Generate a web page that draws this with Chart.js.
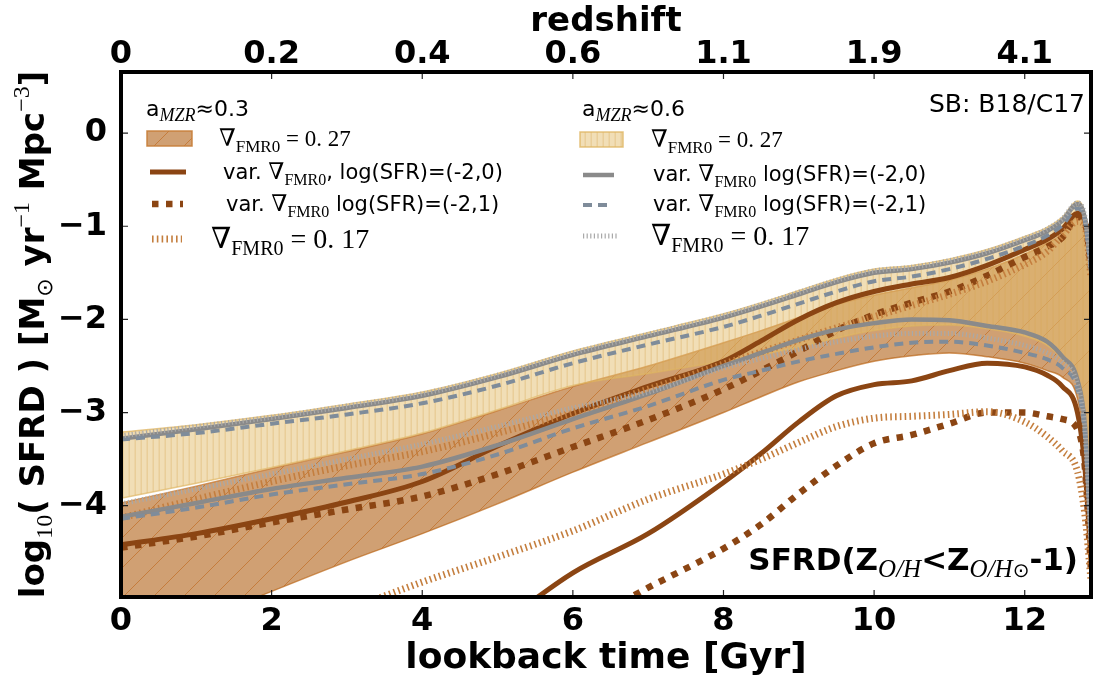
<!DOCTYPE html>
<html><head><meta charset="utf-8">
<script src="https://cdn.jsdelivr.net/npm/chart.js@4.4.1/dist/chart.umd.min.js"></script>
<style>html,body{margin:0;padding:0;background:#fff;}</style>
</head><body>
<canvas id="c" width="1094" height="682"></canvas>
<script>
// ---------------- data ----------------
const lookback = [0,1,2,3,4,5,6,7,8,8.5,9,9.5,10,10.5,11,11.5,12,12.3,12.5,12.7,12.8,12.88];
const bottomTicks = [0,2,4,6,8,10,12];
const redshiftLabels = ['0','0.2','0.4','0.6','1.1','1.9','4.1'];
const yTickValues = [-4,-3,-2,-1,0];

// a_MZR ~ 0.6 band (grad 0.27)
const yellowUpper = [-3.21,-3.13,-3.03,-2.91,-2.78,-2.58,-2.34,-2.14,-1.94,-1.82,-1.69,-1.56,-1.46,-1.42,-1.35,-1.25,-1.11,-1.01,-0.90,-0.73,-0.88,-1.45];
const yellowLower = [-3.92,-3.76,-3.59,-3.41,-3.22,-2.97,-2.71,-2.58,-2.45,-2.38,-2.30,-2.20,-2.12,-2.07,-2.06,-2.10,-2.18,-2.28,-2.43,-2.68,-3.20,-4.50];
// a_MZR ~ 0.3 band (grad 0.27)
const brownUpper = [-3.97,-3.79,-3.60,-3.42,-3.23,-2.98,-2.72,-2.50,-2.25,-2.12,-1.98,-1.84,-1.74,-1.66,-1.58,-1.46,-1.30,-1.18,-1.08,-0.90,-0.97,-1.45];
const brownLower = [-5.60,-5.25,-4.92,-4.60,-4.30,-3.98,-3.64,-3.32,-3.00,-2.83,-2.67,-2.55,-2.45,-2.39,-2.36,-2.40,-2.47,-2.55,-2.62,-2.85,-3.40,-4.60];

// grey (a_MZR ~ 0.6) lines
const greySolidHi  = [-3.28,-3.18,-3.07,-2.95,-2.82,-2.62,-2.38,-2.18,-1.98,-1.86,-1.73,-1.60,-1.50,-1.46,-1.39,-1.29,-1.15,-1.05,-0.94,-0.76,-0.92,-1.45];
const greyDashedHi = [-3.29,-3.22,-3.12,-3.02,-2.90,-2.71,-2.47,-2.27,-2.08,-1.96,-1.83,-1.70,-1.59,-1.54,-1.46,-1.35,-1.21,-1.10,-0.99,-0.81,-0.95,-1.50];
const greyDottedHi = [-3.25,-3.15,-3.05,-2.93,-2.80,-2.60,-2.36,-2.16,-1.96,-1.84,-1.71,-1.58,-1.48,-1.44,-1.37,-1.27,-1.13,-1.03,-0.92,-0.75,-0.90,-1.45];
const greySolidLo  = [-4.12,-3.97,-3.82,-3.70,-3.58,-3.35,-3.07,-2.80,-2.50,-2.36,-2.22,-2.11,-2.04,-2.00,-2.01,-2.07,-2.14,-2.24,-2.40,-2.65,-3.15,-4.40];
const greyDashedLo = [-4.14,-4.02,-3.88,-3.77,-3.66,-3.45,-3.17,-2.93,-2.65,-2.55,-2.45,-2.37,-2.30,-2.25,-2.24,-2.28,-2.36,-2.43,-2.52,-2.75,-3.25,-4.40];
const greyDottedLo = [-3.98,-3.82,-3.66,-3.50,-3.34,-3.15,-2.95,-2.78,-2.52,-2.42,-2.32,-2.24,-2.18,-2.15,-2.15,-2.20,-2.28,-2.36,-2.46,-2.70,-3.20,-4.40];

// brown (a_MZR ~ 0.3) lines
const brownSolidHi  = [-4.42,-4.30,-4.14,-3.96,-3.74,-3.36,-3.01,-2.72,-2.45,-2.23,-2.00,-1.82,-1.70,-1.62,-1.55,-1.42,-1.25,-1.14,-1.03,-0.86,-0.95,-1.40];
const brownDashedHi = [-4.45,-4.33,-4.18,-4.04,-3.90,-3.66,-3.37,-3.08,-2.75,-2.55,-2.34,-2.12,-1.95,-1.82,-1.70,-1.53,-1.33,-1.22,-1.12,-0.90,-0.95,-1.45];
const brownDottedHi = [-4.13,-3.93,-3.74,-3.57,-3.42,-3.22,-3.00,-2.75,-2.48,-2.35,-2.22,-2.09,-1.97,-1.85,-1.73,-1.59,-1.41,-1.27,-1.10,-0.95,-1.00,-1.55];
const brownSolidLo  = [null,null,null,null,null,-5.30,-4.72,-4.30,-3.75,-3.44,-3.10,-2.82,-2.70,-2.66,-2.55,-2.47,-2.51,-2.60,-2.72,-3.00,-3.60,-4.60];
const brownDashedLo = [null,null,null,null,null,null,-5.32,-4.88,-4.46,-4.20,-3.87,-3.57,-3.33,-3.24,-3.12,-3.00,-3.00,-3.04,-3.07,-3.18,-3.60,-4.70];
const brownDottedLo = [null,null,-5.40,-5.12,-4.82,-4.55,-4.27,-3.93,-3.66,-3.50,-3.32,-3.15,-3.06,-3.04,-3.02,-2.99,-3.10,-3.26,-3.41,-3.63,-4.10,-4.80];

// ---------------- styles ----------------
const SANS = "'DejaVu Sans', sans-serif";
const SERIF = "'Liberation Serif', 'DejaVu Serif', serif";
const ST = {
  brownSolid:  {color:'#8b4513', width:5,   dash:[]},
  brownDashed: {color:'#8b4513', width:6.5, dash:[6.5,7.5]},
  brownDotted: {color:'#c47e3e', width:7,   dash:[1.6,3.2]},
  greySolid:   {color:'#8a8a8a', width:4.5, dash:[]},
  greyDashed:  {color:'#7f8c9a', width:4,   dash:[9,6]},
  greyDotted:  {color:'#a9a9a9', width:5,   dash:[1.2,2.4]}
};

function brownPattern(ctx){
  const s=30, c=document.createElement('canvas'); c.width=c.height=s;
  const g=c.getContext('2d');
  g.fillStyle='rgba(176,96,22,0.6)'; g.fillRect(0,0,s,s);
  g.strokeStyle='rgba(190,105,30,0.65)'; g.lineWidth=1;
  g.beginPath();
  g.moveTo(-2,s+2); g.lineTo(s+2,-2);
  g.moveTo(-2,2); g.lineTo(2,-2);
  g.moveTo(s-2,s+2); g.lineTo(s+2,s-2);
  g.stroke();
  return ctx.createPattern(c,'repeat');
}
function yellowPattern(ctx){
  const s=6, c=document.createElement('canvas'); c.width=s; c.height=s;
  const g=c.getContext('2d');
  g.fillStyle='rgba(228,190,110,0.5)'; g.fillRect(0,0,s,s);
  g.fillStyle='rgba(215,170,85,0.3)'; g.fillRect(2.5,0,1.5,s);
  return ctx.createPattern(c,'repeat');
}

const canvas = document.getElementById('c');
const ctx0 = canvas.getContext('2d');
const pts = arr => lookback.map((x,i)=>({x:x, y:arr[i]}));

function lineDS(label, arr, s, order){
  return {label, data:pts(arr), borderColor:s.color, borderWidth:s.width, borderDash:s.dash,
    pointRadius:0, fill:false, cubicInterpolationMode:'monotone', borderCapStyle:'butt',
    borderJoinStyle:'round', order};
}

const datasets = [
  lineDS('grey dotted hi', greyDottedHi, ST.greyDotted, 1),
  lineDS('grey dashed hi', greyDashedHi, ST.greyDashed, 2),
  lineDS('grey solid hi', greySolidHi, ST.greySolid, 3),
  lineDS('grey dotted lo', greyDottedLo, ST.greyDotted, 4),
  lineDS('grey dashed lo', greyDashedLo, ST.greyDashed, 5),
  lineDS('grey solid lo', greySolidLo, ST.greySolid, 6),
  lineDS('brown dotted hi', brownDottedHi, ST.brownDotted, 7),
  lineDS('brown dashed hi', brownDashedHi, ST.brownDashed, 8),
  lineDS('brown solid hi', brownSolidHi, ST.brownSolid, 9),
  lineDS('brown dotted lo', brownDottedLo, ST.brownDotted, 10),
  lineDS('brown dashed lo', brownDashedLo, ST.brownDashed, 11),
  lineDS('brown solid lo', brownSolidLo, ST.brownSolid, 12),
  {label:'yellow upper', data:pts(yellowUpper), borderColor:'rgba(222,180,95,0.7)', borderWidth:1.5,
   pointRadius:0, cubicInterpolationMode:'monotone', fill:{target:13}, backgroundColor:yellowPattern(ctx0), order:50},
  {label:'yellow lower', data:pts(yellowLower), borderColor:'rgba(222,180,95,0.7)', borderWidth:1.5,
   pointRadius:0, cubicInterpolationMode:'monotone', fill:false, order:51},
  {label:'brown upper', data:pts(brownUpper), borderColor:'rgba(200,125,55,0.8)', borderWidth:1.5,
   pointRadius:0, cubicInterpolationMode:'monotone', fill:{target:15}, backgroundColor:brownPattern(ctx0), order:60},
  {label:'brown lower', data:pts(brownLower), borderColor:'rgba(200,125,55,0.8)', borderWidth:1.5,
   pointRadius:0, cubicInterpolationMode:'monotone', fill:false, order:61}
];

// ---------------- helpers for text ----------------
function rich(ctx, parts, x, y, align){
  let w=0;
  parts.forEach(p=>{ctx.font=p[1]; p.w=ctx.measureText(p[0]).width; w+=p.w;});
  let cx = align==='right' ? x-w : (align==='center' ? x-w/2 : x);
  parts.forEach(p=>{ctx.font=p[1]; ctx.fillText(p[0], cx, y+(p[2]||0)); cx+=p.w;});
}
function sample(ctx, x1, x2, y, s){
  ctx.save(); ctx.beginPath(); ctx.setLineDash(s.dash); ctx.lineWidth=s.width;
  ctx.strokeStyle=s.color; ctx.lineCap='butt'; ctx.moveTo(x1,y); ctx.lineTo(x2,y); ctx.stroke(); ctx.restore();
}
function patch(ctx, x, y, w, h, fill, edge){
  ctx.save(); ctx.fillStyle=fill; ctx.fillRect(x,y,w,h);
  ctx.strokeStyle=edge; ctx.lineWidth=1.5; ctx.strokeRect(x,y,w,h); ctx.restore();
}
const grad = (size, sub) => [["\u2207", size+"px "+SERIF], ["FMR0", sub+"px "+SERIF, Math.round(size*0.25)]];

const decor = {
  id:'decor',
  afterDraw(chart){
    const ctx=chart.ctx, a=chart.chartArea, xs=chart.scales.x, ys=chart.scales.y;
    ctx.save();
    ctx.strokeStyle='#222'; ctx.lineWidth=1.2; ctx.beginPath();
    bottomTicks.forEach(v=>{const p=xs.getPixelForValue(v);
      ctx.moveTo(p,a.bottom); ctx.lineTo(p,a.bottom-7); ctx.moveTo(p,a.top); ctx.lineTo(p,a.top+7);});
    yTickValues.forEach(v=>{const p=ys.getPixelForValue(v);
      ctx.moveTo(a.left,p); ctx.lineTo(a.left+7,p); ctx.moveTo(a.right,p); ctx.lineTo(a.right-7,p);});
    ctx.stroke();
    ctx.strokeStyle='#000'; ctx.lineWidth=4; ctx.strokeRect(a.left,a.top,a.right-a.left,a.bottom-a.top);

    ctx.fillStyle='#000'; ctx.textBaseline='alphabetic';
    // y axis title
    ctx.save(); ctx.translate(31, (a.top+a.bottom)/2); ctx.rotate(-Math.PI/2);
    const B="bold 34px "+SANS, S2="24px "+SERIF;
    rich(ctx, [["log",B],["10",S2,8],["( SFRD ) [M",B],["\u2299","22px "+SANS,8],[" yr",B],["\u22121",S2,-15],[" Mpc",B],["\u22123",S2,-15],["]",B]], 0, 13, 'center');
    ctx.restore();

    // left legend (a_MZR ~ 0.3)
    const L="21px "+SANS;
    rich(ctx, [["a","22px "+SANS],["MZR","italic 18px "+SERIF,5],["\u2248","22px "+SANS],["0.3","22px "+SANS]], 146, 116);
    patch(ctx, 147, 131, 45, 15, brownPattern(ctx), 'rgba(200,125,55,0.9)');
    rich(ctx, grad(24,17).concat([[" = 0. 27","23px "+SERIF]]), 219, 146);
    sample(ctx, 150, 186, 172, ST.brownSolid);
    rich(ctx, [["var. ",L]].concat(grad(23,16)).concat([[", log(SFR)=(-2,0)",L]]), 223, 179);
    sample(ctx, 152, 183, 204, ST.brownDashed);
    rich(ctx, [["var. ",L]].concat(grad(23,16)).concat([[" log(SFR)=(-2,1)",L]]), 226, 211);
    sample(ctx, 152, 182, 239, ST.brownDotted);
    rich(ctx, grad(29,20).concat([[" = 0. 17","28px "+SERIF]]), 211, 248);

    // right legend (a_MZR ~ 0.6)
    rich(ctx, [["a","22px "+SANS],["MZR","italic 18px "+SERIF,5],["\u2248","22px "+SANS],["0.6","22px "+SANS]], 582, 116);
    patch(ctx, 580, 132, 43, 15, yellowPattern(ctx), 'rgba(222,180,95,0.8)');
    rich(ctx, grad(24,17).concat([[" = 0. 27","23px "+SERIF]]), 651, 147);
    sample(ctx, 583, 614, 175, ST.greySolid);
    rich(ctx, [["var. ",L]].concat(grad(23,16)).concat([[" log(SFR)=(-2,0)",L]]), 653, 181);
    sample(ctx, 583, 613, 205, ST.greyDashed);
    rich(ctx, [["var. ",L]].concat(grad(23,16)).concat([[" log(SFR)=(-2,1)",L]]), 653, 211);
    sample(ctx, 583, 617, 236, ST.greyDotted);
    rich(ctx, grad(29,20).concat([[" = 0. 17","28px "+SERIF]]), 651, 245);

    // annotations
    rich(ctx, [["SB: B18/C17","25px "+SANS]], 1085, 112, 'right');
    const BB="bold 31px "+SANS, IT="italic 25px "+SERIF;
    rich(ctx, [["SFRD(Z",BB],["O/H",IT,7],["<Z",BB],["O/H",IT,7],["\u2299","20px "+SANS,7],["-1)",BB]], 1078, 570, 'right');
    ctx.restore();
  }
};

const tickFont = {family:"'DejaVu Sans'", weight:'bold', size:32, lineHeight:1};
new Chart(canvas, {
  type:'line',
  data:{datasets},
  options:{
    responsive:false, animation:false, devicePixelRatio:1,
    layout:{padding:{right:3, left:0, top:0, bottom:0}},
    plugins:{legend:{display:false}, tooltip:{enabled:false}},
    scales:{
      x:{type:'linear', position:'bottom', min:0, max:12.88,
        afterFit(s){s.height=85;},
        grid:{display:false, drawTicks:false}, border:{display:false},
        ticks:{stepSize:2, includeBounds:false, autoSkip:false, maxRotation:0, minRotation:0,
          color:'#000', font:tickFont, padding:9},
        title:{display:true, text:'lookback time [Gyr]', color:'#000',
          font:{family:"'DejaVu Sans'", weight:'bold', size:36, lineHeight:1.2}, padding:{top:0,bottom:2}}},
      x2:{type:'linear', position:'top', min:0, max:12.88,
        afterFit(s){s.height=72;},
        grid:{display:false, drawTicks:false}, border:{display:false},
        ticks:{stepSize:2, includeBounds:false, autoSkip:false, maxRotation:0, minRotation:0,
          color:'#000', font:tickFont, padding:1,
          callback:(v)=>{const i=bottomTicks.indexOf(v); return i>=0 ? redshiftLabels[i] : '';}},
        title:{display:true, text:'redshift', color:'#000',
          font:{family:"'DejaVu Sans'", weight:'bold', size:34, lineHeight:1.1}, padding:{top:3,bottom:0}}},
      y:{type:'linear', position:'left', min:-4.98, max:0.656,
        afterFit(s){s.width=121;},
        grid:{display:false, drawTicks:false}, border:{display:false},
        ticks:{stepSize:1, includeBounds:false, color:'#000', font:tickFont, padding:14,
          callback:(v)=> v<0 ? '\u2212'+(-v) : String(v)}}
    }
  },
  plugins:[decor]
});
</script>
</body></html>
